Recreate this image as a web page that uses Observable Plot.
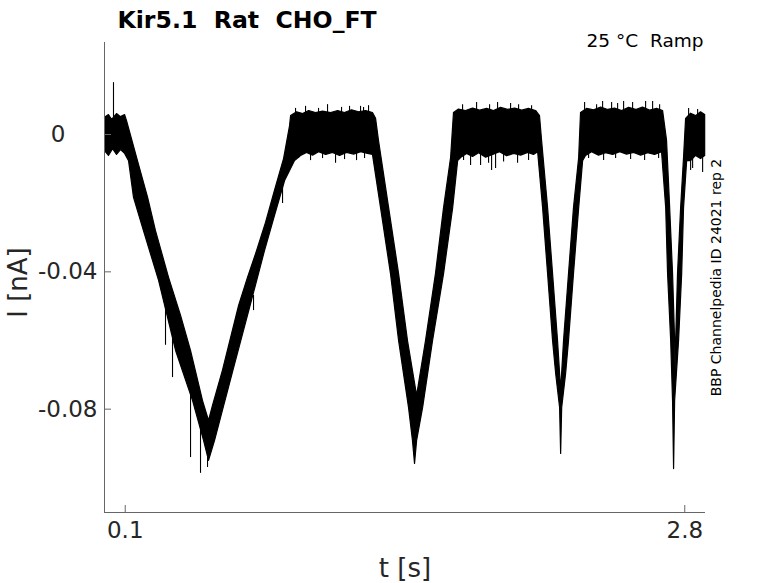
<!DOCTYPE html>
<html><head><meta charset="utf-8">
<script src="https://cdn.jsdelivr.net/npm/d3@7"></script>
<script src="https://cdn.jsdelivr.net/npm/@observablehq/plot@0.6"></script>
<style>body{margin:0;background:#fff} #chart svg{display:block}</style>
</head><body><div id="chart"></div><script>
// ---- data (t in s, I in nA) ----
const title = "Kir5.1\u00a0\u00a0Rat\u00a0\u00a0CHO_FT";
const subtitle = "25 \u00b0C\u00a0\u00a0Ramp";
const sideNote = "BBP Channelpedia ID 24021 rep 2";
const xLabel = "t [s]";
const yLabel = "I [nA]";
const xTicks = [0.1, 2.8];
const yTicks = [0, -0.04, -0.08];
const xDomain = [0, 2.9];
const yDomain = [-0.1101, 0.0268];

// upper envelope of the noisy current trace
const topT = [0.000,0.019,0.034,0.058,0.077,0.097,0.106,0.159,0.208,0.246,0.309,0.367,0.415,0.473,0.502,
  0.521,0.569,0.647,0.690,0.734,0.777,0.820,0.864,0.893,0.898,
  0.927,0.956,0.985,1.018,1.052,1.091,1.125,1.158,1.192,1.226,1.260,1.293,1.308,
  1.322,1.371,1.419,1.462,1.506,1.549,1.597,1.636,1.670,1.684,
  1.708,1.742,1.776,1.810,1.844,1.877,1.911,1.945,1.979,2.013,2.046,2.080,2.099,
  2.109,2.138,2.162,2.186,2.201,2.215,2.239,2.263,2.288,2.297,
  2.326,2.360,2.394,2.428,2.461,2.495,2.529,2.563,2.596,2.630,2.664,2.693,
  2.712,2.727,2.741,2.751,2.753,2.756,2.765,2.780,2.794,2.804,
  2.828,2.852,2.876,2.896];
const topI = [0.0050,0.0058,0.0044,0.0061,0.0052,0.0058,0.0041,-0.0076,-0.0183,-0.0280,-0.0416,-0.0527,-0.0629,-0.0775,-0.0833,
  -0.0789,-0.0687,-0.0498,-0.0416,-0.0338,-0.0256,-0.0163,-0.0070,0.0026,0.0055,
  0.0066,0.0061,0.0070,0.0064,0.0068,0.0064,0.0070,0.0064,0.0072,0.0066,0.0070,0.0064,0.0047,
  -0.0017,-0.0213,-0.0405,-0.0600,-0.0760,-0.0600,-0.0405,-0.0213,-0.0067,0.0064,
  0.0074,0.0070,0.0077,0.0071,0.0076,0.0070,0.0079,0.0073,0.0077,0.0071,0.0076,0.0070,0.0055,
  -0.0017,-0.0213,-0.0405,-0.0600,-0.0745,-0.0600,-0.0405,-0.0213,-0.0067,0.0064,
  0.0076,0.0072,0.0080,0.0073,0.0077,0.0070,0.0079,0.0073,0.0080,0.0071,0.0076,0.0070,
  -0.0017,-0.0213,-0.0405,-0.0600,-0.0687,-0.0600,-0.0405,-0.0213,-0.0067,0.0047,
  0.0062,0.0055,0.0066,0.0058];

// lower envelope of the noisy current trace
const botT = [0.000,0.019,0.039,0.058,0.077,0.097,0.116,0.140,0.188,0.261,0.343,0.425,0.478,0.502,0.531,0.560,0.623,0.709,0.772,0.820,0.869,0.917,0.946,
  0.975,1.004,1.033,1.067,1.100,1.134,1.168,1.202,1.236,1.269,1.293,
  1.332,1.380,1.419,1.467,1.486,1.496,1.506,1.535,1.583,1.636,1.680,1.704,1.718,
  1.747,1.776,1.805,1.839,1.873,1.906,1.940,1.974,2.008,2.042,2.070,2.090,
  2.114,2.138,2.162,2.177,2.196,2.201,2.206,2.225,2.239,2.263,2.288,2.307,2.321,
  2.350,2.384,2.418,2.452,2.486,2.519,2.553,2.587,2.621,2.654,2.688,
  2.708,2.717,2.732,2.741,2.746,2.751,2.770,2.785,2.794,2.809,2.828,
  2.852,2.876,2.896];
const botI = [-0.0047,-0.0061,-0.0041,-0.0058,-0.0044,-0.0055,-0.0076,-0.0183,-0.0280,-0.0425,-0.0629,-0.0775,-0.0891,-0.0949,-0.0891,-0.0824,-0.0679,-0.0483,-0.0338,-0.0236,-0.0134,-0.0076,-0.0061,
  -0.0052,-0.0060,-0.0050,-0.0058,-0.0052,-0.0061,-0.0052,-0.0057,-0.0050,-0.0055,-0.0058,
  -0.0213,-0.0405,-0.0600,-0.0795,-0.0891,-0.0958,-0.0891,-0.0795,-0.0600,-0.0405,-0.0213,-0.0076,-0.0067,
  -0.0055,-0.0064,-0.0053,-0.0066,-0.0058,-0.0050,-0.0062,-0.0055,-0.0060,-0.0052,-0.0058,-0.0050,
  -0.0213,-0.0405,-0.0600,-0.0696,-0.0795,-0.0929,-0.0795,-0.0696,-0.0600,-0.0405,-0.0213,-0.0076,-0.0061,
  -0.0050,-0.0060,-0.0053,-0.0058,-0.0050,-0.0057,-0.0052,-0.0060,-0.0053,-0.0058,-0.0050,
  -0.0213,-0.0405,-0.0600,-0.0775,-0.0973,-0.0775,-0.0600,-0.0405,-0.0213,-0.0076,-0.0076,
  -0.0061,-0.0070,-0.0061];

// isolated noise spikes (start and tip of each spike)
const spikeT    = [0.0434, 0.2944, 0.3282, 0.4151, 0.4633, 0.4971, 0.7191, 0.8591, 1.2355, 1.7664, 1.8678, 1.9595, 2.4035, 2.5048, 2.6448, 2.8282,
  0.9218, 0.9701, 1.0328, 1.0762, 1.1438, 1.1824, 1.2500, 1.2741,
  0.9363, 0.9942, 1.0521, 1.1149, 1.1583, 1.2162, 1.2548,
  1.7278, 1.7954, 1.8581, 1.8967, 1.9981, 2.0608,
  1.7326, 1.8147, 1.8533, 1.8871, 1.9257, 1.9932, 2.0463,
  2.3166, 2.3745, 2.4469, 2.4759, 2.5483, 2.6110, 2.6786,
  2.3359, 2.4083, 2.4662, 2.5386, 2.6062, 2.6737,
  2.8185, 2.8620, 2.8378, 2.8861];
const spikeFrom = [0.0050,-0.0483,-0.0542,-0.0716,-0.0833,-0.0920,-0.0469,-0.0149, 0.0060,-0.0055,-0.0055, 0.0065, 0.0065, 0.0065, 0.0065,-0.0065,
  0.0060, 0.0060, 0.0060, 0.0060, 0.0060, 0.0060, 0.0060, 0.0060,
  -0.0050,-0.0050,-0.0050,-0.0050,-0.0050,-0.0050,-0.0050,
  0.0065, 0.0065, 0.0065, 0.0065, 0.0065, 0.0065,
  -0.0050,-0.0050,-0.0050,-0.0050,-0.0050,-0.0050,-0.0050,
  0.0065, 0.0065, 0.0065, 0.0065, 0.0065, 0.0065, 0.0065,
  -0.0050,-0.0050,-0.0050,-0.0050,-0.0050,-0.0050,
  0.0055, 0.0055,-0.0060,-0.0060];
const spikeTo   = [0.0151,-0.0614,-0.0708,-0.0941,-0.0987,-0.0970,-0.0513,-0.0201, 0.0082,-0.0090,-0.0105, 0.0090, 0.0096, 0.0096, 0.0096,-0.0105,
  0.0076, 0.0082, 0.0076, 0.0087, 0.0079, 0.0082, 0.0079, 0.0084,
  -0.0070,-0.0076,-0.0070,-0.0084,-0.0073,-0.0076,-0.0070,
  0.0087, 0.0093, 0.0087, 0.0093, 0.0087, 0.0084,
  -0.0076,-0.0090,-0.0084,-0.0099,-0.0080,-0.0084,-0.0076,
  0.0093, 0.0087, 0.0093, 0.0090, 0.0093, 0.0096, 0.0087,
  -0.0070,-0.0076,-0.0070,-0.0073,-0.0076,-0.0070,
  0.0076, 0.0073,-0.0099,-0.0111];

// ---- build tables ----
const band = topT.map((t, i) => ({t, I: topI[i]}))
  .concat(botT.map((t, i) => ({t, I: botI[i]})).reverse());
const spikes = spikeT.map((t, i) => ({t, from: spikeFrom[i], to: spikeTo[i]}));

const axisGray = "#666";
const textCol = "#262626";
const fmt = d => d === 0 ? "0" : d.toFixed(2);

const chart = Plot.plot({
  width: 778, height: 583,
  marginLeft: 104, marginRight: 73, marginTop: 42, marginBottom: 71,
  style: {fontFamily: "DejaVu Sans", background: "#fff", color: textCol},
  x: {domain: xDomain},
  y: {domain: yDomain},
  marks: [
    Plot.line(band, {x: "t", y: "I", fill: "black", stroke: "black", strokeWidth: 1.2}),
    Plot.ruleX(spikes, {x: "t", y1: "from", y2: "to", stroke: "black", strokeWidth: 1.1}),
    Plot.ruleX([xDomain[0]], {stroke: axisGray}),
    Plot.ruleY([yDomain[0]], {stroke: axisGray}),
    Plot.tickX(xTicks, {x: d => d, insetTop: 463, stroke: axisGray}),
    Plot.tickY(yTicks, {y: d => d, insetRight: 594, stroke: axisGray}),
    Plot.axisX(xTicks, {tickSize: 0, tickPadding: 9, fontSize: 23, label: null, tickFormat: d => String(d), fill: textCol}),
    Plot.axisY(yTicks.filter(d => d === 0), {tickSize: 0, tickPadding: 39, fontSize: 23, label: null, tickFormat: fmt, fill: textCol}),
    Plot.axisY(yTicks.filter(d => d !== 0), {tickSize: 0, tickPadding: 7, fontSize: 23, label: null, tickFormat: fmt, fill: textCol}),
    Plot.text([title], {text: d => d, frameAnchor: "top-left", dx: 13, dy: -15, textAnchor: "start", lineAnchor: "bottom", fontSize: 23.6, fontWeight: "bold", fill: "black"}),
    Plot.text([subtitle], {text: d => d, frameAnchor: "top-right", dx: -2, dy: 4, textAnchor: "end", lineAnchor: "bottom", fontSize: 18.5, fill: "black"}),
    Plot.text([sideNote], {text: d => d, frameAnchor: "right", dx: 11, rotate: -90, textAnchor: "middle", lineAnchor: "middle", fontSize: 14, fill: "black"}),
    Plot.text([yLabel], {text: d => d, frameAnchor: "left", dx: -86, dy: 5, rotate: -90, textAnchor: "middle", lineAnchor: "middle", fontSize: 26, fill: textCol}),
    Plot.text([xLabel], {text: d => d, frameAnchor: "bottom", dy: 56, textAnchor: "middle", lineAnchor: "middle", fontSize: 26, fill: textCol})
  ]
});
document.getElementById("chart").append(chart);
</script></body></html>
